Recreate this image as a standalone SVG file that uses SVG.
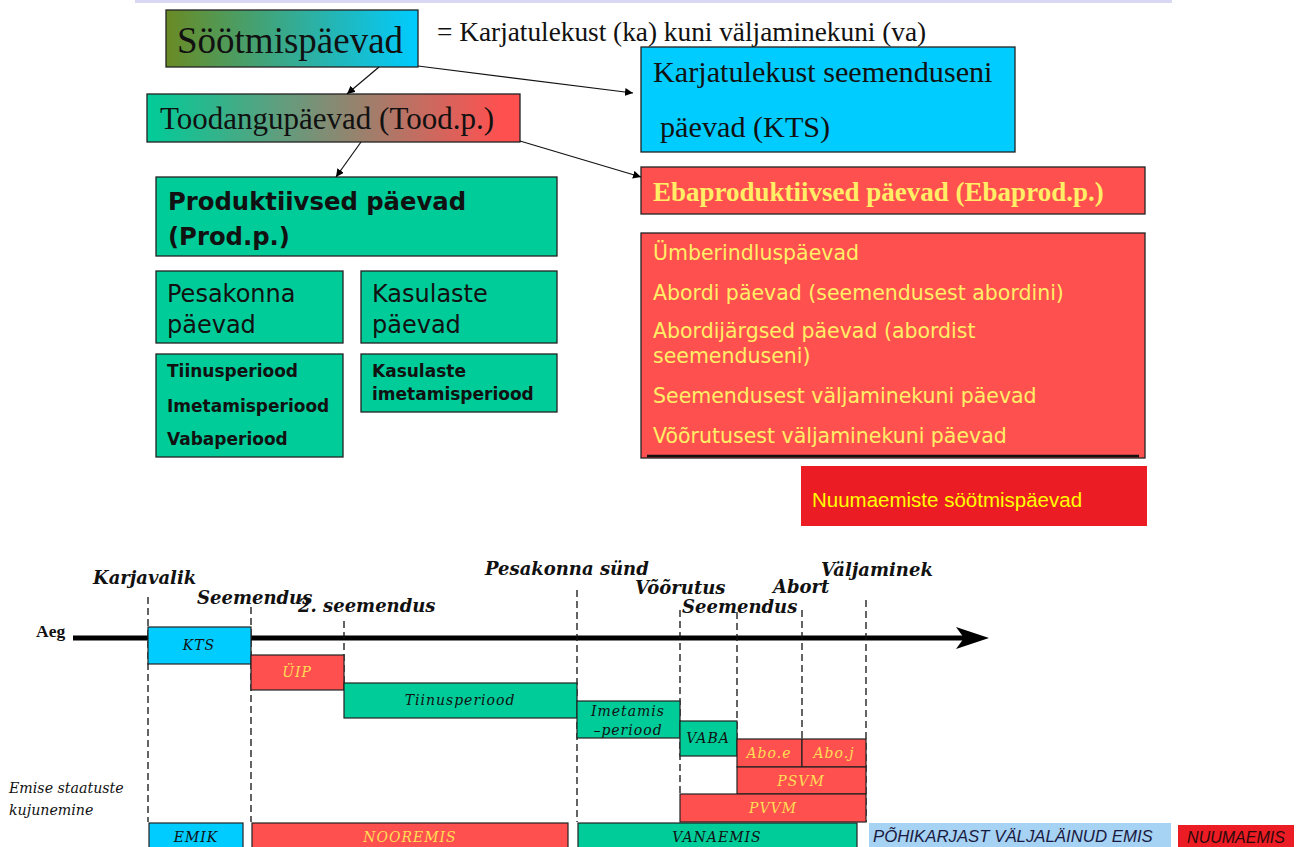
<svg xmlns="http://www.w3.org/2000/svg" width="1307" height="847" viewBox="0 0 1307 847">
<defs>
<linearGradient id="gSoot" x1="0" y1="0" x2="1" y2="0"><stop offset="0" stop-color="#6a8a24"/><stop offset="1" stop-color="#00ccff"/></linearGradient>
<linearGradient id="gTood" x1="0" y1="0" x2="1" y2="0"><stop offset="0" stop-color="#00cc99"/><stop offset="0.95" stop-color="#ff5050"/><stop offset="1" stop-color="#ff5050"/></linearGradient>
<marker id="ah" viewBox="0 0 10 10" refX="10" refY="5" markerWidth="8" markerHeight="8" markerUnits="userSpaceOnUse" orient="auto"><path d="M0,0 L10,5 L0,10 z" fill="#000"/></marker>
<style>
.box{stroke:#222;stroke-width:1.3}
.gr{fill:#00cc99}
.rd{fill:#ff5050}
.cy{fill:#00ccff}
.serif{font-family:"Liberation Serif","Times New Roman",serif;fill:#111}
.sans{font-family:"DejaVu Sans",Verdana,sans-serif;fill:#111}
.ysans{font-family:"DejaVu Sans",Verdana,sans-serif;fill:#ffee66;font-size:20.5px}
.conn{stroke:#111;stroke-width:1.2;fill:none}
.dash{stroke:#111;stroke-width:1.3;stroke-dasharray:7,4;fill:none}
.lbl{font-family:"DejaVu Serif",serif;font-style:italic;font-weight:bold;font-size:18px;fill:#111}
.tb{stroke:#222;stroke-width:1.2}
.tt{font-family:"DejaVu Serif",serif;font-style:italic;font-size:14px;letter-spacing:1px;text-anchor:middle;fill:#111}
.ty{fill:#ffdd55}
</style>
</defs>
<rect x="0" y="0" width="1307" height="847" fill="#fff"/>
<rect x="135" y="0" width="1037" height="3" fill="#d8d8f4"/>

<g id="soot">
<rect class="box" x="166" y="10" width="252" height="57" fill="url(#gSoot)"/>
<text class="serif" x="177" y="53" font-size="37">Söötmispäevad</text>
</g>
<g id="def">
<text class="serif" x="437" y="41" font-size="27.3">= Karjatulekust (ka) kuni väljaminekuni (va)</text>
</g>
<g id="kts">
<rect class="box cy" x="641" y="47" width="374" height="105"/>
<text class="serif" x="653" y="82" font-size="30.2">Karjatulekust seemenduseni</text>
<text class="serif" x="660" y="137" font-size="30.2">päevad (KTS)</text>
</g>
<g id="tood">
<rect class="box" x="147" y="94" width="373" height="48" fill="url(#gTood)"/>
<text class="serif" x="160" y="129" font-size="31">Toodangupäevad (Tood.p.)</text>
</g>
<g id="prod">
<rect class="box gr" x="156" y="177" width="401" height="79"/>
<text class="sans" x="168" y="210" font-size="24.3" font-weight="bold">Produktiivsed päevad</text>
<text class="sans" x="168" y="245" font-size="24.3" font-weight="bold">(Prod.p.)</text>
</g>
<g id="pesa">
<rect class="box gr" x="156" y="271" width="187" height="72"/>
<text class="sans" x="167" y="302" font-size="24">Pesakonna</text>
<text class="sans" x="167" y="333" font-size="24">päevad</text>
</g>
<g id="kasu">
<rect class="box gr" x="361" y="271" width="196" height="72"/>
<text class="sans" x="372" y="302" font-size="24">Kasulaste</text>
<text class="sans" x="372" y="333" font-size="24">päevad</text>
</g>
<g id="pesalist">
<rect class="box gr" x="156" y="354" width="187" height="103"/>
<text class="sans" x="167" y="377" font-size="17" font-weight="bold">Tiinusperiood</text>
<text class="sans" x="167" y="412" font-size="17" font-weight="bold">Imetamisperiood</text>
<text class="sans" x="167" y="445" font-size="17" font-weight="bold">Vabaperiood</text>
</g>
<g id="kasulist">
<rect class="box gr" x="361" y="354" width="196" height="58"/>
<text class="sans" x="372" y="377" font-size="17" font-weight="bold">Kasulaste</text>
<text class="sans" x="372" y="400" font-size="17" font-weight="bold">imetamisperiood</text>
</g>
<g id="ebaprod">
<rect class="box rd" x="641" y="167" width="504" height="47"/>
<text x="653" y="201" font-family="Liberation Serif,Times New Roman,serif" font-weight="bold" font-size="27" fill="#ffee66">Ebaproduktiivsed päevad (Ebaprod.p.)</text>
</g>
<g id="ebalist">
<rect class="box rd" x="641" y="233" width="504" height="225"/>
<line x1="647" y1="456" x2="1139" y2="456" stroke="#111" stroke-width="2.5"/>
<text class="ysans" x="653" y="260">Ümberindluspäevad</text>
<text class="ysans" x="653" y="300">Abordi päevad (seemendusest abordini)</text>
<text class="ysans" x="653" y="338">Abordijärgsed päevad (abordist</text>
<text class="ysans" x="653" y="363">seemenduseni)</text>
<text class="ysans" x="653" y="403">Seemendusest väljaminekuni päevad</text>
<text class="ysans" x="653" y="443">Võõrutusest väljaminekuni päevad</text>
</g>
<g id="nuum">
<rect x="801" y="466" width="346" height="60" fill="#ec1c24"/>
<text x="812" y="507" font-family="Liberation Sans,Arial,sans-serif" font-size="20.5" fill="#ffff00">Nuumaemiste söötmispäevad</text>
</g>

<g id="connectors">
<line class="conn" x1="379" y1="67" x2="347" y2="94" marker-end="url(#ah)"/>
<line class="conn" x1="418" y1="66" x2="633" y2="93" marker-end="url(#ah)"/>
<line class="conn" x1="361" y1="142" x2="336" y2="177" marker-end="url(#ah)"/>
<line class="conn" x1="520" y1="141" x2="641" y2="177" marker-end="url(#ah)"/>
</g>

<g id="timeline">
<text x="36" y="637" font-family="Liberation Serif,serif" font-weight="bold" font-size="17.5" fill="#111">Aeg</text>
<line x1="73" y1="638" x2="966" y2="638" stroke="#000" stroke-width="5"/>
<path d="M956,627 L989,638 L956,649 L964,638 z" fill="#000"/>
<line class="dash" x1="148" y1="597" x2="148" y2="822"/>
<line class="dash" x1="251" y1="607" x2="251" y2="822"/>
<line class="dash" x1="344" y1="621" x2="344" y2="683"/>
<line class="dash" x1="577" y1="590" x2="577" y2="822"/>
<line class="dash" x1="680" y1="610" x2="680" y2="794"/>
<line class="dash" x1="737" y1="612" x2="737" y2="739"/>
<line class="dash" x1="802" y1="610" x2="802" y2="739"/>
<line class="dash" x1="866" y1="600" x2="866" y2="822"/>
<text class="lbl" x="93" y="584">Karjavalik</text>
<text class="lbl" x="197" y="604">Seemendus</text>
<text class="lbl" x="298" y="612" font-size="17">2. seemendus</text>
<text class="lbl" x="485" y="575" font-size="17.7">Pesakonna sünd</text>
<text class="lbl" x="635" y="594">Võõrutus</text>
<text class="lbl" x="682" y="613" font-size="17.5">Seemendus</text>
<text class="lbl" x="773" y="593">Abort</text>
<text class="lbl" x="821" y="576">Väljaminek</text>
<text x="9" y="793" font-family="DejaVu Serif,serif" font-style="italic" font-size="14.2" fill="#111">Emise staatuste</text>
<text x="9" y="815" font-family="DejaVu Serif,serif" font-style="italic" font-size="14.2" fill="#111">kujunemine</text>
</g>

<g id="t-kts"><rect class="tb cy" x="148" y="627" width="103" height="37"/><text class="tt" x="199" y="650">KTS</text></g>
<g id="t-uip"><rect class="tb rd" x="251" y="655" width="93" height="35"/><text class="tt ty" x="297" y="677">ÜIP</text></g>
<g id="t-tiin"><rect class="tb gr" x="344" y="683" width="233" height="35"/><text class="tt" x="460" y="705">Tiinusperiood</text></g>
<g id="t-imet"><rect class="tb gr" x="577" y="701" width="103" height="37"/><text class="tt" x="628" y="716">Imetamis</text><text class="tt" x="628" y="735">–periood</text></g>
<g id="t-vaba"><rect class="tb gr" x="680" y="721" width="57" height="35"/><text class="tt" x="708" y="743" letter-spacing="0">VABA</text></g>
<g id="t-aboe"><rect class="tb rd" x="737" y="739" width="65" height="28"/><text class="tt ty" x="769" y="758">Abo.e</text></g>
<g id="t-aboj"><rect class="tb rd" x="802" y="739" width="64" height="28"/><text class="tt ty" x="834" y="758">Abo.j</text></g>
<g id="t-psvm"><rect class="tb rd" x="737" y="767" width="129" height="27"/><text class="tt ty" x="801" y="786">PSVM</text></g>
<g id="t-pvvm"><rect class="tb rd" x="680" y="794" width="186" height="28"/><text class="tt ty" x="773" y="813">PVVM</text></g>
<g id="s-emik"><rect class="tb cy" x="149" y="823" width="94" height="30"/><text class="tt" x="196" y="842">EMIK</text></g>
<g id="s-noor"><rect class="tb rd" x="252" y="823" width="316" height="30"/><text class="tt ty" x="410" y="842">NOOREMIS</text></g>
<g id="s-vana"><rect class="tb gr" x="578" y="823" width="279" height="30"/><text class="tt" x="717" y="842">VANAEMIS</text></g>
<g id="s-pohi"><rect x="869" y="823" width="302" height="30" fill="#a6d2f4"/><text x="873" y="842" font-family="Liberation Sans,Arial,sans-serif" font-style="italic" font-size="16.8" fill="#1a1a40">PÕHIKARJAST VÄLJALÄINUD EMIS</text></g>
<g id="s-nuum"><rect x="1178" y="825" width="116" height="28" fill="#ec1c24"/><text x="1236" y="843" text-anchor="middle" font-family="Liberation Sans,Arial,sans-serif" font-style="italic" font-size="16" fill="#2a0a0a">NUUMAEMIS</text></g>
</svg>
